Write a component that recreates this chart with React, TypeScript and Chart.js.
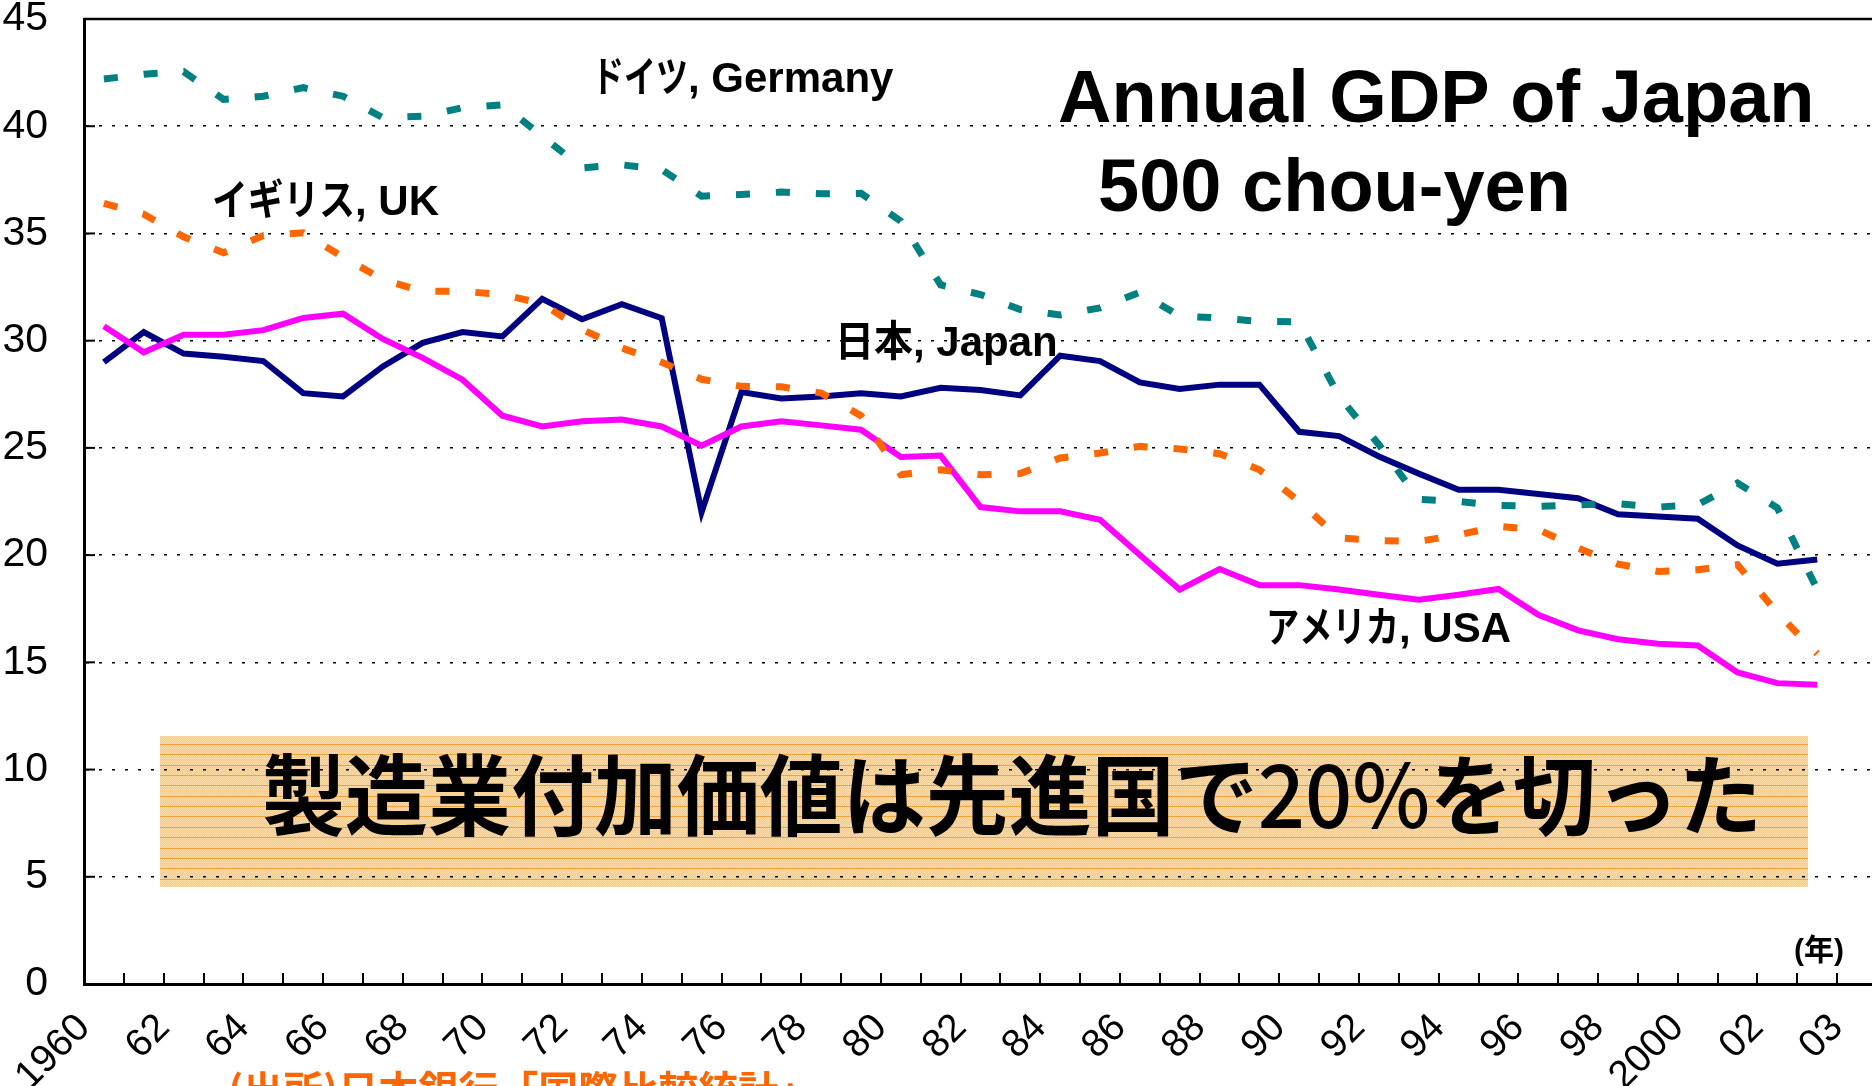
import React, { useEffect, useRef } from "react";
import { Chart, registerables } from "chart.js";

Chart.register(...registerables);

const categories = [
  "1960", "1961", "1962", "1963", "1964", "1965", "1966", "1967", "1968", "1969",
  "1970", "1971", "1972", "1973", "1974", "1975", "1976", "1977", "1978", "1979",
  "1980", "1981", "1982", "1983", "1984", "1985", "1986", "1987", "1988", "1989",
  "1990", "1991", "1992", "1993", "1994", "1995", "1996", "1997", "1998", "1999",
  "2000", "2001", "2002", "2003", "2004",
];

const tickLabels = [
  "1960", "", "62", "", "64", "", "66", "", "68", "", "70", "", "72", "", "74", "",
  "76", "", "78", "", "80", "", "82", "", "84", "", "86", "", "88", "", "90", "",
  "92", "", "94", "", "96", "", "98", "", "2000", "", "02", "", "03",
];

const japan = [
  29.0, 30.4, 29.4, 29.25, 29.05, 27.55, 27.4, 28.8, 29.9, 30.4,
  30.2, 31.95, 31.0, 31.7, 31.05, 22.0, 27.6, 27.3, 27.4, 27.55,
  27.4, 27.8, 27.7, 27.45, 29.3, 29.05, 28.05, 27.75, 27.95, 27.95,
  25.75, 25.55, 24.6, 23.8, 23.05, 23.05, 22.85, 22.65, 21.9, 21.8,
  21.7, 20.45, 19.6, 19.8,
];

const usa = [
  30.67, 29.46, 30.28, 30.28, 30.49, 31.06, 31.26, 30.08, 29.2, 28.18,
  26.5, 26.0, 26.24, 26.32, 26.0, 25.1, 26.0, 26.24, 26.05, 25.85,
  24.58, 24.64, 22.24, 22.04, 22.04, 21.65, 20.0, 18.39, 19.35, 18.6,
  18.6, 18.4, 18.15, 17.92, 18.15, 18.42, 17.22, 16.49, 16.08, 15.87,
  15.79, 14.53, 14.03, 13.95,
];

const uk = [
  36.4, 35.9, 34.84, 34.1, 34.9, 35.03, 33.9, 32.85, 32.3, 32.3,
  32.15, 31.73, 30.52, 29.66, 28.99, 28.2, 27.87, 27.85, 27.56, 26.5,
  23.75, 23.98, 23.75, 23.8, 24.53, 24.76, 25.07, 24.95, 24.73, 23.98,
  22.5, 20.8, 20.67, 20.64, 20.95, 21.34, 21.19, 20.33, 19.58, 19.24,
  19.32, 19.55, 17.3, 15.4,
];

const germany = [
  42.2, 42.42, 42.55, 41.25, 41.4, 41.8, 41.4, 40.4, 40.47, 40.86,
  41.0, 39.54, 38.06, 38.2, 37.98, 36.74, 36.82, 36.93, 36.85, 36.87,
  35.57, 32.6, 32.15, 31.45, 31.2, 31.53, 32.26, 31.14, 31.06, 30.9,
  30.88, 27.4, 25.15, 22.6, 22.5, 22.32, 22.27, 22.35, 22.4, 22.24,
  22.35, 23.36, 22.2, 18.4,
];

const yTicks = [0, 5, 10, 15, 20, 25, 30, 35, 40, 45];

const LATIN = '"Liberation Sans", Arial, "Noto Sans CJK JP", sans-serif';
const CJK = '"Noto Sans CJK JP", "Noto Sans CJK SC", sans-serif';

function drawPair(ctx: CanvasRenderingContext2D, jp: string, en: string, x: number, baseline: number, jpWidth: number, size: number) {
  ctx.textAlign = "left";
  ctx.textBaseline = "alphabetic";
  ctx.fillStyle = "#000";
  ctx.font = `bold ${size}px ${CJK}`;
  ctx.fillText(jp, x, baseline, jpWidth);
  ctx.font = `bold ${size}px ${LATIN}`;
  ctx.fillText(en, x + jpWidth, baseline);
}

const decorPlugin = {
  id: "decor",
  beforeDraw(chart: any) {
    const ctx: CanvasRenderingContext2D = chart.ctx;
    const bx = 160, by = 736, bw = 1648, bh = 151;
    ctx.save();
    ctx.fillStyle = "#FFC980";
    ctx.fillRect(bx, by, bw, bh);
    const c = document.createElement("canvas");
    c.width = 2; c.height = 2;
    const p = c.getContext("2d")!;
    p.fillStyle = "#FFDCA6";
    p.fillRect(0, 0, 1, 1);
    p.fillRect(1, 1, 1, 1);
    const pat = ctx.createPattern(c, "repeat");
    if (pat) {
      ctx.fillStyle = pat;
      ctx.fillRect(bx, by, bw, bh);
    }
    ctx.fillStyle = "#F4A23A";
    for (let y = by + 8; y < by + bh - 2; y += 10.35) {
      ctx.fillRect(bx, Math.round(y), bw, 1);
    }
    ctx.restore();
  },
  afterDraw(chart: any) {
    const ctx: CanvasRenderingContext2D = chart.ctx;
    const area = chart.chartArea;
    const xs = chart.scales.x;
    const ys = chart.scales.y;
    ctx.save();
    ctx.strokeStyle = "#000";
    ctx.lineWidth = 2.5;
    ctx.beginPath();
    const yTop = ys.getPixelForValue(45);
    ctx.moveTo(area.left, yTop);
    ctx.lineTo(area.right, yTop);
    ctx.stroke();
    ctx.lineWidth = 2;
    for (const v of yTicks) {
      if (v === 0 || v === 45) continue;
      const py = ys.getPixelForValue(v);
      ctx.beginPath();
      ctx.moveTo(area.left, py);
      ctx.lineTo(area.left + 11, py);
      ctx.stroke();
    }
    const half = (xs.getPixelForValue(1) - xs.getPixelForValue(0)) / 2;
    for (let i = 1; i < categories.length; i++) {
      const px = Math.round(xs.getPixelForValue(i) - half);
      ctx.beginPath();
      ctx.moveTo(px, area.bottom);
      ctx.lineTo(px, area.bottom - 11);
      ctx.stroke();
    }

    drawPair(ctx, "ドイツ", ", Germany", 592, 92, 96, 42);
    drawPair(ctx, "イギリス", ", UK", 212, 215, 143, 42);
    drawPair(ctx, "日本", ", Japan", 835, 356, 78, 42);
    drawPair(ctx, "アメリカ", ", USA", 1266, 642, 133, 42);

    ctx.fillStyle = "#000";
    ctx.textAlign = "left";
    ctx.textBaseline = "alphabetic";
    ctx.font = `bold 74px ${LATIN}`;
    ctx.fillText("Annual GDP of Japan", 1058, 122);
    ctx.fillText("500 chou-yen", 1098, 211);

    const segs = [
      { t: "製造業付加価値は先進国で", w: "bold" },
      { t: "20%", w: "500" },
      { t: "を切った", w: "bold" },
    ];
    const size = 88;
    let total = 0;
    const widths: number[] = [];
    for (const s of segs) {
      ctx.font = `${s.w} ${size}px ${CJK}`;
      const m = ctx.measureText(s.t).width;
      widths.push(m);
      total += m;
    }
    const scale = Math.min(1, 1500 / total);
    let x = 262;
    segs.forEach((s, i) => {
      ctx.font = `${s.w} ${size}px ${CJK}`;
      const w = widths[i] * scale;
      ctx.fillText(s.t, x, 828, w);
      x += w;
    });

    ctx.font = `bold 30px ${LATIN}`;
    ctx.fillText("(年)", 1794, 960);

    ctx.fillStyle = "#FF6600";
    ctx.font = `bold 40px ${CJK}`;
    ctx.fillText("(出所)日本銀行「国際比較統計」", 228, 1105);
    ctx.restore();
  },
};

export default function App() {
  const ref = useRef<HTMLCanvasElement>(null);
  useEffect(() => {
    if (!ref.current) return;
    const chart = new Chart(ref.current, {
      type: "line",
      data: {
        labels: categories,
        datasets: [
          { label: "Germany", data: germany, borderColor: "#008080", borderWidth: 7, borderDash: [14, 26], pointRadius: 0, tension: 0, fill: false },
          { label: "UK", data: uk, borderColor: "#FF6600", borderWidth: 7, borderDash: [14, 26], pointRadius: 0, tension: 0, fill: false },
          { label: "USA", data: usa, borderColor: "#FF00FF", borderWidth: 6, pointRadius: 0, tension: 0, fill: false },
          { label: "Japan", data: japan, borderColor: "#000080", borderWidth: 6, pointRadius: 0, tension: 0, fill: false },
        ],
      },
      options: {
        animation: false,
        responsive: false,
        devicePixelRatio: 1,
        layout: { padding: { top: 19, right: 3, left: 0, bottom: 0 } },
        plugins: { legend: { display: false }, tooltip: { enabled: false } },
        scales: {
          x: {
            type: "category",
            offset: true,
            grid: { display: false, drawTicks: false },
            border: { display: true, color: "#000", width: 3 },
            ticks: {
              autoSkip: false,
              maxRotation: 45,
              minRotation: 45,
              callback: (_v: any, i: number) => tickLabels[i],
              labelOffset: -20,
              padding: 21,
              color: "#000",
              font: { family: LATIN, size: 39 },
            },
            afterFit: (s: any) => { s.height = 102; s.paddingLeft = 0; s.paddingRight = 0; },
          },
          y: {
            min: 0,
            max: 45,
            ticks: {
              stepSize: 5,
              padding: 36,
              color: "#000",
              font: { family: LATIN, size: 41 },
            },
            grid: {
              drawTicks: false,
              lineWidth: 1.5,
              color: (c: any) => (c.tick && (c.tick.value === 0 || c.tick.value === 45) ? "rgba(0,0,0,0)" : "#000"),
            },
            border: { display: true, color: "#000", width: 3, dash: [3, 10] },
            afterFit: (s: any) => { s.width = 84; s.paddingTop = 0; s.paddingBottom = 0; },
          },
        },
      } as any,
      plugins: [decorPlugin],
    });
    return () => chart.destroy();
  }, []);
  return (
    <div style={{ position: "fixed", left: 0, top: 0, width: 1872, height: 1086, overflow: "hidden", background: "#fff" }}>
      <canvas ref={ref} width={1880} height={1086} style={{ display: "block", width: 1880, height: 1086 }} />
    </div>
  );
}
